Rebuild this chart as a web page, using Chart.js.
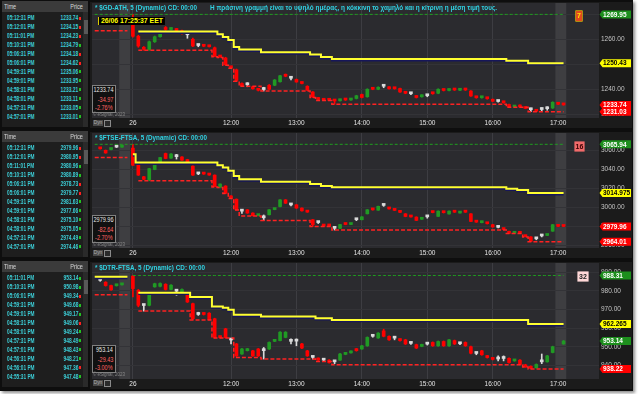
<!DOCTYPE html>
<html><head><meta charset="utf-8">
<script src="https://cdn.jsdelivr.net/npm/chart.js@4.4.1/dist/chart.umd.min.js"></script>
<style>
html,body{margin:0;padding:0;background:#ffffff;}
body{width:640px;height:394px;overflow:hidden;position:relative;font-family:"Liberation Sans",Arial,sans-serif;}
#frame{position:absolute;left:0;top:0;width:633px;height:391px;background:#0e0e0e;box-shadow:2px 2px 3px rgba(0,0,0,0.45);}
.abs{position:absolute;white-space:nowrap;}
.tbl{position:absolute;left:2px;width:86px;height:126px;background:#1e1e1e;overflow:hidden;}
.th{position:absolute;left:0;top:0;width:86px;height:11px;background:#3b3b3b;}
.cell{position:absolute;font-size:7px;line-height:8px;height:8px;white-space:nowrap;}
.hd{color:#d8d8d8;}
.tm{left:5px;transform-origin:0 50%;transform:scaleX(0.68);color:#3ccdd6;font-weight:bold;}
.pr{right:10px;transform-origin:100% 50%;transform:scaleX(0.7);color:#3ccdd6;font-weight:bold;}
.ar{position:absolute;left:77px;width:2px;height:3px;}
.sb{position:absolute;left:81px;top:11px;width:5px;height:115px;background:#2a2a2a;}
.thumb{position:absolute;left:81.5px;top:19px;width:4px;height:14px;background:#585858;}
canvas{position:absolute;left:90px;}
.title{font-size:7px;line-height:8px;color:#30d2e2;font-weight:bold;}
.dbox{position:absolute;left:92px;width:22px;height:26px;border:1px solid #808080;background:#111;}
.dv{position:absolute;right:2px;font-size:6.5px;line-height:7px;transform-origin:100% 50%;transform:scaleX(0.85);white-space:nowrap;}
.copy{font-size:4.5px;line-height:5px;color:#8a8a8a;}
.dyn{position:absolute;left:93px;width:10px;height:6px;background:#4a4a4a;color:#b0b0b0;font-size:4.8px;line-height:6px;text-align:center;}
.ico{position:absolute;left:104px;width:5px;height:5px;border:1px solid #8a8a8a;background:#2a2a2a;}
.num{position:absolute;font-size:7px;line-height:9px;text-align:center;font-weight:bold;}
</style>
</head><body>
<div id="frame"></div>
<script>
// ---------- categories (5-minute bars) ----------
const categories = [
 "25/06 16:35","25/06 16:40","25/06 16:45","25/06 16:50","25/06 16:55","25/06 17:00","25/06 17:05",
 "10:30","10:35","10:40","10:45","10:50","10:55",
 "11:00","11:05","11:10","11:15","11:20","11:25","11:30","11:35","11:40","11:45","11:50","11:55",
 "12:00","12:05","12:10","12:15","12:20","12:25","12:30","12:35","12:40","12:45","12:50","12:55",
 "13:00","13:05","13:10","13:15","13:20","13:25","13:30","13:35","13:40","13:45","13:50","13:55",
 "14:00","14:05","14:10","14:15","14:20","14:25","14:30","14:35","14:40","14:45","14:50","14:55",
 "15:00","15:05","15:10","15:15","15:20","15:25","15:30","15:35","15:40","15:45","15:50","15:55",
 "16:00","16:05","16:10","16:15","16:20","16:25","16:30","16:35","16:40","16:45","16:50","16:55",
 "17:00","17:05","17:10","17:15","17:20","17:25","17:30","17:35"
];
const xTickShown = {"10:30":"26","12:00":"12:00","13:00":"13:00","14:00":"14:00","15:00":"15:00","16:00":"16:00","17:00":"17:00"};
const auctionBands = [["25/06 17:00","25/06 17:05"],["17:00","17:05"]];
const dayStartLabel = "10:30";

// ---------- $GD-ATH ----------
const gdPrev = [null,null,null,null,null,null,null];
const gdDay = [ // [open, high, low, close] from 10:30
[1266.0,1269.95,1260.8,1261.2],[1261.2,1261.6,1256.8,1257.3],[1256.8,1257.1,1255.6,1256.0],[1255.9,1259.3,1255.6,1259.0],
[1259.0,1261.3,1258.7,1261.0],[1261.0,1263.3,1260.8,1263.0],[1264.7,1265.1,1263.6,1263.9],[1263.9,1264.7,1263.7,1264.4],
[1264.0,1264.3,1263.3,1263.5],[1263.4,1263.7,1262.0,1262.3],[1261.8,1262.4,1260.4,1261.8],[1260.0,1260.5,1257.0,1257.3],
[1257.5,1258.0,1257.0,1257.5],[1257.6,1257.9,1257.0,1257.2],[1257.4,1257.6,1256.9,1257.0],[1256.6,1256.9,1253.0,1253.2],
[1253.3,1253.5,1252.7,1252.9],[1252.5,1252.8,1249.6,1249.8],[1249.0,1249.2,1248.4,1248.6],[1247.8,1248.1,1243.2,1243.5],
[1242.3,1242.6,1241.2,1241.4],[1241.8,1242.6,1241.0,1241.8],[1240.9,1241.1,1240.0,1240.2],[1240.1,1240.3,1239.3,1239.6],
[1239.9,1240.8,1239.3,1239.9],[1241.6,1241.9,1239.8,1240.0],[1241.6,1243.9,1241.4,1243.7],[1243.0,1245.6,1242.8,1245.4],
[1245.8,1246.1,1245.0,1245.2],[1244.4,1245.0,1243.7,1244.4],[1243.9,1244.1,1242.8,1242.9],[1242.8,1243.0,1242.1,1242.3],
[1241.2,1241.4,1239.5,1239.6],[1238.9,1239.1,1236.7,1236.9],[1236.5,1236.7,1235.8,1235.9],[1236.0,1236.2,1235.5,1235.6],
[1235.9,1236.1,1235.5,1235.6],[1235.7,1235.9,1234.0,1235.3],[1235.4,1236.1,1235.2,1235.9],[1236.0,1236.2,1235.5,1235.7],
[1235.7,1236.4,1235.5,1236.2],[1236.3,1237.6,1236.1,1237.4],[1237.9,1238.1,1236.5,1236.7],[1237.0,1240.2,1236.8,1240.0],
[1240.4,1240.6,1239.8,1240.0],[1240.0,1241.0,1239.8,1240.8],[1241.2,1241.8,1240.6,1241.2],[1240.9,1241.1,1240.0,1240.2],
[1240.6,1240.8,1240.0,1240.2],[1240.3,1240.5,1238.7,1238.9],[1238.7,1238.9,1238.2,1238.4],[1238.2,1238.6,1237.8,1238.2],
[1237.3,1237.5,1236.5,1236.7],[1237.0,1237.8,1236.8,1237.6],[1237.4,1237.8,1237.0,1237.4],[1238.6,1238.8,1238.0,1238.2],
[1238.4,1240.2,1238.2,1240.0],[1239.9,1240.1,1239.3,1239.5],[1239.5,1240.2,1239.3,1240.0],[1240.1,1240.3,1239.5,1239.7],
[1239.6,1240.2,1239.4,1240.0],[1240.2,1240.4,1239.5,1239.7],[1239.3,1239.5,1237.1,1237.3],[1237.0,1237.2,1236.4,1236.6],
[1236.6,1237.2,1236.4,1237.0],[1236.6,1236.8,1236.0,1236.2],[1235.9,1236.1,1235.0,1235.2],[1235.1,1235.5,1234.8,1235.1],
[1235.0,1235.2,1234.4,1234.6],[1233.9,1234.1,1232.8,1233.0],[1232.9,1233.5,1232.8,1233.3],[1233.6,1233.8,1232.8,1232.9],
[1232.7,1232.9,1232.2,1232.3],[1231.8,1232.5,1231.03,1231.8],[1231.6,1231.8,1231.1,1231.2],[1231.9,1232.6,1231.2,1231.9],
[1232.2,1233.0,1231.6,1232.2],[1232.5,1235.0,1232.3,1234.8],[1234.4,1234.6,1233.8,1234.0],[1234.2,1234.4,1233.6,1233.74]
];
const gdHighSteps = [[0,86,1269.95]];
const gdAvgSteps = [[8,22,1263.1],[23,23,1262.0],[24,24,1260.9],[25,25,1259.7],[26,26,1256.9],[27,30,1255.9],[31,39,1254.8],[40,41,1253.9],[42,43,1252.9],[44,75,1252.1],[76,79,1251.4],[80,86,1250.43]];
const gdLowSteps = [[0,6,1263.4],[8,21,1255.6],[22,22,1253.0],[23,23,1252.7],[24,24,1249.6],[25,25,1248.4],[26,26,1243.2],[27,30,1241.2],[31,39,1239.3],[40,40,1236.7],[41,43,1235.5],[44,75,1234.0],[76,79,1232.8],[80,86,1231.03]];
const gdTicks = [1230,1240,1250,1260,1270];
const gdRange = [1228.5,1274.5];
const gdTrades = [["05:12:31 PM","1233.74",-1],["05:12:01 PM","1234.15",-1],["05:11:01 PM","1234.23",-1],["05:10:31 PM","1234.79",1],["05:06:31 PM","1234.18",-1],["05:06:01 PM","1234.62",-1],["04:59:31 PM","1235.06",1],["04:59:01 PM","1233.95",1],["04:58:31 PM","1233.21",1],["04:58:01 PM","1233.11",1],["04:57:31 PM","1233.05",1],["04:57:01 PM","1233.01",1]];
const gdInfo = ["1233.74","-34.97","-2.76%"];

// ---------- $FTSE-FTSA ----------
const ftPrev = [null,[3061.8,3062.3,3060.9,3061.2],[3059.7,3060.0,3056.6,3056.9],[3060.5,3061.8,3060.2,3061.4],[3063.0,3063.4,3062.6,3063.0],[3063.0,3063.8,3062.8,3063.5],null];
const ftDay = [
[3062.0,3065.94,3043.8,3044.1],[3044.1,3044.5,3033.4,3033.7],[3032.0,3032.4,3029.0,3029.3],[3029.0,3040.9,3027.8,3040.5],
[3039.6,3046.2,3039.3,3045.9],[3045.9,3052.4,3045.6,3052.1],[3056.3,3056.8,3050.8,3051.1],[3051.5,3056.2,3051.2,3055.8],
[3053.0,3055.5,3050.5,3053.0],[3052.7,3053.0,3049.0,3049.3],[3050.0,3050.3,3044.8,3045.1],[3043.1,3043.5,3033.4,3033.7],
[3035.0,3036.0,3034.2,3035.0],[3035.3,3035.6,3034.5,3034.8],[3034.3,3034.6,3033.5,3033.8],[3033.7,3034.0,3021.3,3021.6],
[3021.0,3024.7,3020.7,3024.4],[3022.3,3022.6,3014.4,3014.7],[3011.9,3012.2,3009.2,3009.5],[3008.5,3008.8,2997.1,2997.4],
[2996.0,2997.5,2993.5,2996.0],[2997.4,2997.7,2993.7,2994.0],[2994.0,2994.3,2991.0,2991.2],[2991.3,2992.6,2991.0,2992.3],
[2989.0,2992.0,2986.3,2989.0],[2992.2,2997.7,2992.0,2997.4],[2997.6,2998.6,2997.4,2998.3],[3000.8,3008.1,3000.5,3007.8],
[3007.8,3008.1,3004.0,3004.3],[3002.5,3003.5,3001.5,3002.5],[3002.6,3002.9,2998.9,2999.2],[2999.2,2999.5,2996.0,2996.3],
[2995.5,2995.8,2994.7,2995.0],[2987.0,2987.3,2980.0,2981.8],[2984.0,2985.0,2983.0,2984.0],[2980.8,2981.0,2980.2,2980.4],
[2980.9,2981.2,2980.3,2980.5],[2978.0,2979.0,2976.2,2978.0],[2978.0,2982.3,2977.8,2982.0],[2982.5,2982.8,2981.7,2982.0],
[2982.0,2982.8,2981.8,2982.5],[2987.0,2988.0,2986.0,2987.0],[2987.0,2990.3,2986.8,2990.0],[2993.2,2997.7,2993.0,2997.4],
[2997.8,2998.1,2997.0,2997.3],[2997.0,3001.3,2996.8,3001.0],[3002.0,3003.2,3001.0,3002.0],[2999.2,2999.5,2998.0,2998.3],
[2997.6,2997.9,2996.5,2996.8],[2996.5,2996.8,2994.4,2994.7],[2993.2,2993.5,2990.1,2990.4],[2990.6,2990.9,2989.6,2989.9],
[2989.8,2990.1,2986.0,2986.3],[2987.5,2989.0,2987.3,2988.6],[2990.0,2991.3,2988.6,2990.0],[2995.3,2995.6,2994.2,2994.5],
[2990.5,2996.3,2990.3,2996.0],[2995.3,2995.6,2994.0,2994.4],[2993.0,2996.3,2992.8,2996.0],[2995.5,2995.8,2994.6,2994.9],
[2994.0,2994.8,2993.8,2994.5],[2995.4,2995.7,2994.6,2994.9],[2993.2,2993.5,2985.0,2985.2],[2985.2,2985.5,2984.2,2984.5],
[2983.9,2985.5,2983.7,2985.2],[2983.5,2983.8,2982.5,2982.8],[2981.8,2982.1,2979.1,2979.4],[2979.0,2979.8,2978.3,2979.0],
[2977.4,2977.7,2976.4,2976.7],[2974.9,2975.2,2972.5,2972.7],[2972.8,2973.6,2972.6,2973.3],[2973.4,2973.7,2972.6,2972.8],
[2970.0,2970.3,2969.0,2969.3],[2969.0,2969.3,2964.01,2964.5],[2967.0,2968.5,2966.0,2967.0],[2970.0,2971.5,2969.0,2970.0],
[2970.5,2971.5,2970.3,2971.2],[2975.0,2982.1,2974.8,2981.8],[2980.3,2980.6,2979.7,2980.0],[2980.5,2980.8,2979.8,2979.96]
];
const ftHighSteps = [[0,86,3065.94]];
const ftAvgSteps = [[7,7,3055.5],[8,22,3046.9],[23,23,3044.1],[24,24,3041.7],[25,25,3038.2],[26,26,3032.7],[27,30,3029.3],[31,39,3026.8],[40,41,3024.4],[42,43,3022.3],[44,75,3021.0],[76,77,3019.5],[78,79,3018.2],[80,86,3014.975]];
const ftLowSteps = [[0,6,3052.1],[8,21,3027.8],[22,22,3021.3],[23,23,3020.7],[24,24,3014.4],[25,25,3009.2],[26,26,2997.1],[27,30,2991.0],[31,39,2986.3],[40,43,2980.0],[44,75,2976.2],[76,78,2972.5],[79,79,2969.0],[80,86,2964.01]];
const ftTicks = [2960,2980,3000,3020,3040,3060];
const ftRange = [2957.4,3077.8];
const ftTrades = [["05:12:31 PM","2979.96",-1],["05:12:01 PM","2980.95",-1],["05:11:01 PM","2980.96",1],["05:10:31 PM","2980.89",1],["05:06:31 PM","2978.73",-1],["05:06:01 PM","2979.77",-1],["04:59:31 PM","2981.63",1],["04:59:01 PM","2977.66",1],["04:58:31 PM","2975.10",1],["04:58:01 PM","2975.05",1],["04:57:31 PM","2974.49",1],["04:57:01 PM","2974.46",1]];
const ftInfo = ["2979.96","-82.64","-2.70%"];

// ---------- $DTR-FTSA ----------
const dtPrev = [null,[985.7,986.2,985.2,985.7],[984.7,985.0,982.6,982.9],[982.9,983.2,980.3,980.6],[982.8,983.6,982.6,983.3],[983.3,984.1,983.1,983.8],null];
const dtDay = [
[988.0,988.31,976.8,981.3],[980.4,980.8,971.5,972.3],[972.2,972.5,969.2,972.2],[972.3,978.9,972.0,978.6],
[982.2,984.2,982.0,983.9],[982.5,984.3,982.2,984.0],[983.6,983.9,980.5,980.8],[980.8,983.4,980.5,983.1],
[979.9,980.8,977.7,979.9],[978.6,981.1,978.4,980.8],[978.0,978.3,973.8,974.1],[973.2,973.5,964.8,965.1],
[967.4,968.6,966.9,967.4],[968.1,968.4,967.1,967.4],[968.1,968.4,964.5,964.6],[965.1,965.4,954.8,955.1],
[955.5,955.8,954.8,955.0],[959.7,960.0,954.8,955.0],[953.7,954.5,951.6,953.7],[951.6,951.9,944.9,945.2],
[946.2,949.2,946.0,948.9],[948.0,949.2,947.8,948.9],[947.9,948.2,944.9,945.2],[948.9,949.2,944.9,945.2],
[948.0,949.7,943.5,948.0],[948.9,952.7,948.6,952.4],[953.0,953.9,952.8,953.6],[953.4,958.2,953.2,957.9],
[955.1,958.2,954.9,957.9],[953.0,954.3,951.6,953.0],[953.1,954.3,950.6,953.1],[951.6,951.9,949.1,949.4],
[947.9,948.2,944.9,945.2],[944.4,945.0,943.5,944.4],[943.8,944.1,942.7,943.0],[942.9,943.3,942.5,942.9],
[942.9,943.2,941.3,941.6],[942.0,942.5,941.0,942.0],[942.9,946.5,942.7,946.2],[946.0,947.1,945.8,946.8],
[946.8,947.9,946.6,947.6],[948.9,949.2,947.7,948.0],[948.9,950.9,948.6,950.6],[950.6,955.4,950.3,955.1],
[955.7,956.3,955.2,955.7],[954.8,957.7,954.6,957.4],[958.6,959.5,955.4,955.7],[955.7,956.0,953.5,953.8],
[954.7,955.7,953.8,954.7],[954.1,954.4,953.1,953.4],[953.8,954.1,951.3,951.6],[951.9,952.4,951.4,951.9],
[951.2,951.5,949.1,949.4],[950.3,951.5,950.1,951.2],[951.5,952.0,951.0,951.5],[952.4,952.7,950.3,950.6],
[950.6,953.2,950.3,952.9],[952.9,953.2,950.3,950.6],[950.6,954.1,950.3,953.8],[953.4,953.7,951.3,951.6],
[951.7,952.2,951.2,951.7],[952.4,952.7,950.3,950.6],[950.1,950.4,946.3,946.6],[946.5,947.0,945.8,946.5],
[947.9,948.2,945.5,945.8],[945.2,945.5,944.0,944.3],[943.8,944.1,943.0,943.3],[943.5,945.2,942.5,943.5],
[943.8,945.2,942.5,943.8],[943.9,944.2,941.3,941.6],[942.5,943.2,942.3,942.9],[942.9,943.2,940.4,940.6],
[940.4,940.7,939.0,939.3],[939.6,939.9,938.22,938.5],[938.8,940.9,938.6,940.6],[942.0,946.2,941.0,942.0],
[942.0,945.5,941.8,945.2],[947.0,950.4,946.8,950.1],null,[951.6,953.5,951.4,953.14]
];
const dtHighSteps = [[7,86,988.31]];
const dtAvgSteps = [[0,6,987.6],[8,17,979.1],[18,21,976.8],[22,23,971.7],[24,24,971.0],[25,25,969.9],[26,30,967.2],[31,40,966.3],[41,43,965.4],[44,79,964.5],[80,86,962.265]];
const dtLowSteps = [[0,6,978.0],[8,17,969.2],[18,21,964.5],[22,25,954.8],[26,30,944.3],[31,40,943.5],[41,43,942.2],[44,78,940.4],[79,79,939.3],[80,86,938.22]];
const dtTicks = [940,950,960,970,980,990];
const dtRange = [932.8,995.0];
const dtTrades = [["05:11:01 PM","953.14",1],["05:10:31 PM","950.98",1],["05:06:01 PM","949.34",-1],["04:59:31 PM","949.68",1],["04:59:01 PM","949.17",1],["04:58:31 PM","949.06",-1],["04:58:01 PM","949.24",1],["04:57:31 PM","948.49",1],["04:57:01 PM","948.43",1],["04:56:31 PM","948.21",1],["04:56:01 PM","947.36",-1],["04:55:31 PM","947.48",1]];
const dtInfo = ["953.14","-29.43","-3.00%"];

// ---------- colours ----------
const UP = '#209a24', DN = '#ff0000', FLAT = '#dadada';
const FONT = '"Liberation Sans", Arial, sans-serif';
Chart.defaults.font.family = FONT;

const N = categories.length;
const dayStart = categories.indexOf(dayStartLabel);
function expandSteps(steps){ const a = new Array(N).fill(null); steps.forEach(s=>{for(let i=s[0];i<=s[1];i++) a[i]=s[2];}); return a; }
function placeCandles(prev, day){ const a = new Array(N).fill(null); prev.forEach((c,i)=>{a[i]=c;}); day.forEach((c,i)=>{a[dayStart+i]=c;}); return a; }
function lastVal(arr){ for(let i=arr.length-1;i>=0;i--) if(arr[i]!=null) return arr[i]; return null; }

const panels = [
 {top:0, name:'$GD-ATH', prev:gdPrev, day:gdDay, high:gdHighSteps, avg:gdAvgSteps, low:gdLowSteps, ticks:gdTicks, range:gdRange, trades:gdTrades, info:gdInfo, lastUp:false, titleW:102, badge:{t:'7',x:576,y:11,w:6,h:10,bg:'#e24a1f',fg:'#ffe800',bd:'#ffd000'}},
 {top:130, name:'$FTSE-FTSA', prev:ftPrev, day:ftDay, high:ftHighSteps, avg:ftAvgSteps, low:ftLowSteps, ticks:ftTicks, range:ftRange, trades:ftTrades, info:ftInfo, lastUp:false, titleW:112, badge:{t:'16',x:575,y:141.5,w:9,h:9,bg:'#f26a6a',fg:'#3a0000',bd:'#f26a6a'}},
 {top:260, name:'$DTR-FTSA', prev:dtPrev, day:dtDay, high:dtHighSteps, avg:dtAvgSteps, low:dtLowSteps, ticks:dtTicks, range:dtRange, trades:dtTrades, info:dtInfo, lastUp:true, titleW:110, badge:{t:'32',x:578,y:272,w:10,h:9,bg:'#ffd8d8',fg:'#222',bd:'#ffd8d8'}}
];

function el(tag, cls, css, text){ const e=document.createElement(tag); if(cls) e.className=cls; if(css) Object.assign(e.style, css); if(text!=null) e.textContent=text; document.body.appendChild(e); return e; }
function fitW(e, w){ const r = e.getBoundingClientRect().width; if(r>0){ e.style.transformOrigin='0 50%'; e.style.transform='scaleX('+(w/r)+')'; } }

panels.forEach((P, pi)=>{
  const T = P.top;
  // ---- time & sales table ----
  const tbl = el('div','tbl',{top:(T+1)+'px'});
  const th = document.createElement('div'); th.className='th'; tbl.appendChild(th);
  const h1 = document.createElement('div'); h1.className='cell hd'; Object.assign(h1.style,{left:'2px',top:'2px',transformOrigin:'0 50%',transform:'scaleX(0.8)'}); h1.textContent='Time'; tbl.appendChild(h1);
  const h2 = document.createElement('div'); h2.className='cell hd'; Object.assign(h2.style,{right:'5px',top:'2px',transformOrigin:'100% 50%',transform:'scaleX(0.8)'}); h2.textContent='Price'; tbl.appendChild(h2);
  P.trades.forEach((r,k)=>{
    const cy = 17.3 + k*8.94;
    const a = document.createElement('div'); a.className='cell tm'; a.style.top=(cy-4)+'px'; a.textContent=r[0]; tbl.appendChild(a);
    const b = document.createElement('div'); b.className='cell pr'; b.style.top=(cy-4)+'px'; b.textContent=r[1]; tbl.appendChild(b);
    const c = document.createElement('div'); c.className='ar'; c.style.top=(cy-1.5)+'px'; c.style.background = r[2]>0?'#22c322':'#ff2020'; tbl.appendChild(c);
  });
  const sb = document.createElement('div'); sb.className='sb'; tbl.appendChild(sb);
  const tb = document.createElement('div'); tb.className='thumb'; tbl.appendChild(tb);

  // ---- chart ----
  const cv = el('canvas',null,{top:(T+2)+'px'});
  cv.width = 542; cv.height = (pi===2?127:126);
  const cand = placeCandles(P.prev, P.day);
  const col = cand.map(c=>!c?'rgba(0,0,0,0)':(c[3]>c[0]?UP:(c[3]<c[0]?DN:FLAT)));
  const wick = cand.map(c=>c?[c[2],c[1]]:null);
  const body = cand.map(c=>c?[c[0],c[3]]:null);
  const hi = expandSteps(P.high), avg = expandSteps(P.avg), lo = expandSteps(P.low);
  const lastClose = lastVal(cand)[3];
  const marks = [
    {v:lastVal(hi), bg:'#1d8f1d', fg:'#ffffff'},
    {v:lastVal(avg), bg:'#ffff00', fg:'#000000'},
    {v:lastClose, bg:P.lastUp?'#1d8f1d':'#ff0000', fg:'#ffffff'},
    {v:lastVal(lo), bg:'#ff0000', fg:'#ffffff'}
  ];
  const bandIdx = auctionBands.map(b=>[categories.indexOf(b[0]), categories.indexOf(b[1])]);

  const bgPlugin = {id:'bg'+pi, beforeDraw(ch){
    const c=ch.ctx, ca=ch.chartArea, xs=ch.scales.x;
    c.save(); c.fillStyle='#1b1b1b'; c.fillRect(0,0,ch.width,ch.height);
    c.fillStyle='#2b2b2f'; c.fillRect(ca.left,ca.top,ca.right-ca.left,ca.bottom-ca.top);
    const w=(ca.right-ca.left)/N;
    c.fillStyle='rgba(255,255,255,0.09)';
    bandIdx.forEach(b=>{ const x0=xs.getPixelForValue(b[0])-w/2, x1=xs.getPixelForValue(b[1])+w/2; c.fillRect(x0,ca.top,x1-x0,ca.bottom-ca.top); });
    c.restore();
  }};
  const shadowPlugin = {id:'sh'+pi,
    beforeDatasetDraw(ch,args){ if(ch.data.datasets[args.index].shift){ ch.ctx.save(); ch.ctx.translate(0,1.4);} },
    afterDatasetDraw(ch,args){ if(ch.data.datasets[args.index].shift){ ch.ctx.restore(); } }};
  const markPlugin = {id:'mk'+pi, afterDraw(ch){
    const c=ch.ctx, ys=ch.scales.y, ca=ch.chartArea;
    c.save(); c.font='bold 6.5px '+FONT; c.textBaseline='middle'; c.textAlign='left';
    marks.forEach(m=>{
      const y=ys.getPixelForValue(m.v), x0=ca.right+0.5, x1=ch.width-1, h=8;
      c.fillStyle=m.bg; c.beginPath(); c.moveTo(x0,y); c.lineTo(x0+3,y-h/2); c.lineTo(x1,y-h/2); c.lineTo(x1,y+h/2); c.lineTo(x0+3,y+h/2); c.closePath(); c.fill();
      c.fillStyle=m.fg; c.fillText(String(m.v), x0+3.5, y+0.5);
    });
    c.restore();
  }};
  const shown = i => categories[i]!==undefined && xTickShown[categories[i]]!==undefined;

  new Chart(cv.getContext('2d'), {
    type:'bar',
    data:{labels:categories, datasets:[
      {type:'line', data:hi, borderColor:'#1fa01f', borderWidth:1, borderDash:[3,2], pointRadius:0, stepped:'middle', order:1},
      {type:'line', data:avg, borderColor:'#ffff30', borderWidth:2, pointRadius:0, stepped:'middle', order:2},
      {type:'line', data:avg, borderColor:'#16165a', borderWidth:2, pointRadius:0, stepped:'middle', order:3, shift:true},
      {type:'line', data:lo, borderColor:'#ff2222', borderWidth:1.5, borderDash:[4,2], pointRadius:0, stepped:'middle', order:1},
      {data:wick, backgroundColor:col, barThickness:1, grouped:false, order:6, minBarLength:1},
      {data:body, backgroundColor:col, barThickness:3, grouped:false, order:5, minBarLength:2}
    ]},
    options:{
      animation:false, responsive:false, maintainAspectRatio:false, events:[],
      layout:{padding:{left:2,top:1,right:0,bottom:0}},
      plugins:{legend:{display:false}, tooltip:{enabled:false}},
      scales:{
        x:{offset:true, grid:{offset:false, drawTicks:false, color:ctx=>shown(ctx.index)?'#3d3d42':'rgba(0,0,0,0)'}, border:{display:false},
           ticks:{autoSkip:false, maxRotation:0, minRotation:0, color:'#e4e4e4', font:{size:6.5}, padding:1.5,
             callback:(v,i)=>shown(i)?xTickShown[categories[i]]:''},
           afterFit(s){ s.height=10; s.paddingLeft=0; s.paddingRight=0; s.paddingTop=0; s.paddingBottom=0; }},
        y:{position:'right', min:P.range[0], max:P.range[1], grid:{drawTicks:false, color:'#333337'}, border:{display:false},
           ticks:{color:'#c4c4c4', font:{size:6.5}, padding:2, callback:v=>Number(v).toFixed(2)},
           afterBuildTicks(s){ s.ticks = P.ticks.map(v=>({value:v})); },
           afterFit(s){ s.width=33; s.paddingTop=0; s.paddingBottom=0; s.paddingLeft=0; s.paddingRight=0; }}
      }
    },
    plugins:[bgPlugin, shadowPlugin, markPlugin]
  });

  // ---- overlays ----
  const t = el('div','abs title',{left:'95px',top:(T+4)+'px'}, '* '+P.name+', 5 (Dynamic) CD: 00:00');
  fitW(t, P.titleW);
  const db = el('div','dbox',{top:(T+84.5)+'px'});
  ['#e8e8e8','#ff6464','#ff6464'].forEach((cc,k)=>{
    const d=document.createElement('div'); d.className='dv'; d.style.color=cc; d.style.top=([0.5,10,18.5][k])+'px'; d.textContent=P.info[k]; db.appendChild(d);
  });
  el('div','abs copy',{left:'93px',top:(T+112)+'px'}, '\u00a9 eSignal, 2023');
  el('div','dyn',{top:(T+119.5)+'px'}, 'Dyn');
  el('div','ico',{top:(T+119.5)+'px'});
  const B=P.badge;
  el('div','num',{left:B.x+'px',top:B.y+'px',width:B.w+'px',height:B.h+'px',lineHeight:B.h+'px',background:B.bg,color:B.fg,boxShadow:'0 0 0 0.6px '+B.bd}, B.t);
});

// panel 1 extras
const note = el('div','abs title',{left:'210px',top:'4px'}, 'Η πράσινη γραμμή είναι το υψηλό ημέρας, η κόκκινη το χαμηλό και η κίτρινη η μέση τιμή τους.');
fitW(note, 287);
const stamp = el('div','abs',{left:'98px',top:'16.5px',height:'8px',padding:'0 2px',background:'#000',borderLeft:'1px solid #e0d000',color:'#ffff00',fontSize:'7px',lineHeight:'8px',fontWeight:'bold'}, '26/06 17:25:37 EET');
fitW(stamp, 67);
</script>
</body></html>
